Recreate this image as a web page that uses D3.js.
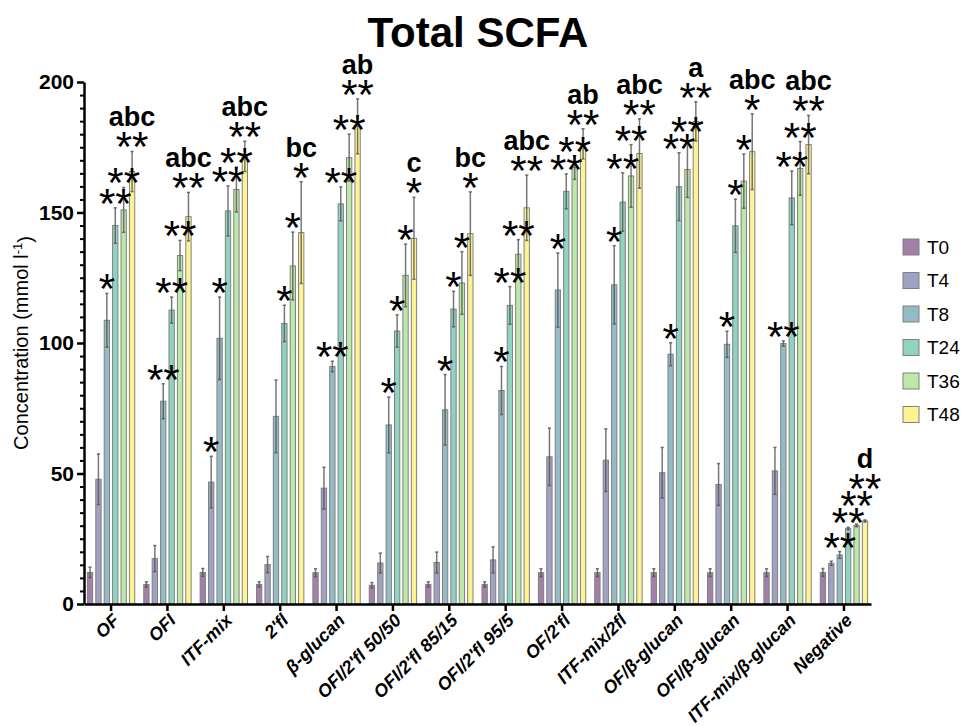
<!DOCTYPE html>
<html>
<head>
<meta charset="utf-8">
<script src="https://cdn.jsdelivr.net/npm/d3@7"></script>
<style>
  body { margin: 0; background: #fff; }
  svg { display: block; }
</style>
</head>
<body>
<svg id="chart" width="973" height="726"></svg>
<script>
// Treatments (x groups) and sampling times (series)
const categories = ["OF", "OFI", "ITF-mix", "2'fl", "β-glucan", "OFI/2'fl 50/50", "OFI/2'fl 85/15",
  "OFI/2'fl 95/5", "OF/2'fl", "ITF-mix/2fl", "OF/β-glucan", "OFI/β-glucan", "ITF-mix/β-glucan", "Negative"];
const seriesNames = ["T0", "T4", "T8", "T24", "T36", "T48"];

// Mean total SCFA (mmol l-1) per treatment
const meanT0  = [12.1, 7.5, 12.1, 7.5, 12.0, 7.2, 7.5, 7.5, 12.0, 12.0, 12.0, 12.0, 12.0, 12.1];
const meanT4  = [47.8, 17.4, 46.7, 15.1, 44.4, 15.7, 15.9, 16.9, 56.4, 55.1, 50.3, 45.8, 51.0, 15.6];
const meanT8  = [108.7, 77.7, 101.8, 71.9, 91.0, 68.6, 74.4, 81.8, 120.3, 122.3, 95.7, 99.5, 99.8, 18.8];
const meanT24 = [145.0, 112.6, 150.6, 107.5, 153.3, 104.6, 113.0, 114.4, 158.1, 154.0, 159.9, 144.9, 155.6, 28.9];
const meanT36 = [151.0, 133.5, 158.8, 129.5, 171.0, 125.9, 123.0, 134.0, 167.2, 164.0, 166.5, 162.0, 166.9, 30.1];
const meanT48 = [165.7, 148.4, 171.5, 142.3, 183.0, 140.1, 141.9, 151.8, 176.3, 172.6, 184.9, 173.3, 176.0, 31.8];

// Standard deviations
const sdT0  = [2.0, 1.0, 1.5, 1.0, 1.5, 1.0, 1.0, 1.0, 1.5, 1.5, 1.5, 1.5, 1.5, 1.5];
const sdT4  = [9.7, 5.0, 9.9, 3.1, 8.0, 3.8, 4.0, 5.0, 11.0, 12.0, 9.7, 8.0, 9.0, 0.8];
const sdT8  = [10.3, 6.7, 15.8, 13.9, 2.0, 10.7, 13.5, 9.2, 14.2, 15.0, 4.4, 5.0, 1.0, 1.3];
const sdT24 = [6.8, 5.0, 9.6, 7.0, 6.5, 6.2, 6.8, 7.2, 6.7, 11.2, 13.0, 10.2, 10.3, 0.5];
const sdT36 = [8.6, 5.8, 8.6, 13.0, 9.0, 12.0, 12.0, 5.6, 4.5, 12.0, 10.7, 10.4, 10.3, 0.5];
const sdT48 = [7.7, 9.3, 5.8, 19.5, 10.5, 15.7, 16.0, 12.5, 5.8, 13.3, 7.5, 14.5, 11.2, 0.4];

// Significance vs. T0
const starsT0  = ["", "", "", "", "", "", "", "", "", "", "", "", "", ""];
const starsT4  = ["", "", "*", "", "", "", "", "", "", "", "", "", "", ""];
const starsT8  = ["*", "**", "*", "", "**", "*", "*", "*", "*", "*", "*", "*", "**", "**"];
const starsT24 = ["**", "**", "**", "*", "**", "*", "*", "**", "**", "**", "**", "*", "**", "**"];
const starsT36 = ["**", "**", "**", "*", "**", "*", "*", "**", "**", "**", "**", "*", "**", "**"];
const starsT48 = ["**", "**", "**", "*", "**", "*", "*", "**", "**", "**", "**", "*", "**", "**"];

// Compact letter display between treatments at T48
const groupLetters = ["abc", "abc", "abc", "bc", "ab", "c", "bc", "abc", "ab", "abc", "a", "abc", "abc", "d"];

const yTicks = [0, 50, 100, 150, 200];
const yMax = 200;

const means = [meanT0, meanT4, meanT8, meanT24, meanT36, meanT48];
const sds = [sdT0, sdT4, sdT8, sdT24, sdT36, sdT48];
const stars = [starsT0, starsT4, starsT8, starsT24, starsT36, starsT48];

const rows = [];
categories.forEach((cat, i) => {
  seriesNames.forEach((s, j) => {
    rows.push({ cat, ci: i, series: s, si: j, mean: means[j][i], sd: sds[j][i], star: stars[j][i] });
  });
});

const FONT = '"Liberation Sans", Arial, Helvetica, sans-serif';
const svg = d3.select("#chart");

const plotLeft = 84, plotRight = 871, plotTop = 82, plotBottom = 604;

const x0 = d3.scaleBand().domain(categories).range([plotLeft, plotRight]).paddingInner(0.16).paddingOuter(0.06);
const x1 = d3.scaleBand().domain(seriesNames).range([0, x0.bandwidth()]).paddingInner(0.37).paddingOuter(0);
const y = d3.scaleLinear().domain([0, yMax]).range([plotBottom, plotTop]);

const baseColor = d3.scaleOrdinal().domain(seriesNames)
  .range(seriesNames.map((_, k) => d3.interpolateViridis(k / (seriesNames.length - 1))));

// Title
svg.append("text")
  .attr("x", 478).attr("y", 47)
  .attr("text-anchor", "middle")
  .style("font-family", FONT).style("font-weight", "bold").style("font-size", "42px")
  .text("Total SCFA");

// Bars
const gBars = svg.append("g");
gBars.selectAll("rect").data(rows).join("rect")
  .attr("x", d => x0(d.cat) + x1(d.series))
  .attr("width", x1.bandwidth())
  .attr("y", d => y(d.mean))
  .attr("height", d => y(0) - y(d.mean))
  .attr("fill", d => baseColor(d.series))
  .attr("fill-opacity", 0.5)
  .attr("stroke", "#808080")
  .attr("stroke-width", 1);

// Error bars
const cx = d => x0(d.cat) + x1(d.series) + x1.bandwidth() / 2;
const gErr = svg.append("g").attr("stroke", "#555").attr("stroke-opacity", 0.8).attr("stroke-width", 1.5);
gErr.selectAll("line.v").data(rows).join("line").attr("class", "v")
  .attr("x1", cx).attr("x2", cx)
  .attr("y1", d => y(d.mean - d.sd)).attr("y2", d => y(d.mean + d.sd));
gErr.selectAll("line.t").data(rows).join("line").attr("class", "t")
  .attr("x1", d => cx(d) - 1.6).attr("x2", d => cx(d) + 1.6)
  .attr("y1", d => y(d.mean + d.sd)).attr("y2", d => y(d.mean + d.sd));
gErr.selectAll("line.b").data(rows).join("line").attr("class", "b")
  .attr("x1", d => cx(d) - 1.6).attr("x2", d => cx(d) + 1.6)
  .attr("y1", d => y(d.mean - d.sd)).attr("y2", d => y(d.mean - d.sd));

// Axes
const yAxisMinor = d3.axisLeft(y)
  .tickValues(d3.range(0, yMax + 1, 5).filter(v => v % 50 !== 0))
  .tickSize(4).tickFormat("").tickSizeOuter(0);
svg.append("g").attr("transform", `translate(${plotLeft},0)`).call(yAxisMinor)
  .call(g => g.select(".domain").remove())
  .call(g => g.selectAll("line").attr("stroke", "#000").attr("stroke-width", 2));

const yAxis = d3.axisLeft(y).tickValues(yTicks).tickSize(7).tickPadding(3).tickSizeOuter(0);
svg.append("g").attr("transform", `translate(${plotLeft},0)`).call(yAxis)
  .call(g => g.select(".domain").attr("stroke", "#000").attr("stroke-width", 2.5))
  .call(g => g.selectAll("line").attr("stroke", "#000").attr("stroke-width", 2.5))
  .call(g => g.selectAll("text")
    .style("font-family", FONT).style("font-weight", "bold").style("font-size", "21px").attr("fill", "#000"));

const xAxis = d3.axisBottom(x0).tickSize(7).tickSizeOuter(0);
svg.append("g").attr("transform", `translate(0,${plotBottom})`).call(xAxis)
  .call(g => g.select(".domain").attr("stroke", "#000").attr("stroke-width", 2.5))
  .call(g => g.selectAll("line").attr("stroke", "#000").attr("stroke-width", 2.5))
  .call(g => g.selectAll("text")
    .attr("x", null).attr("y", null).attr("dy", "0.35em")
    .attr("transform", "translate(5,13) rotate(-45)")
    .attr("text-anchor", "end")
    .style("font-family", FONT).style("font-weight", "bold").style("font-style", "italic")
    .style("font-size", "18px").attr("fill", "#000"));

// Y axis title
const yTitle = svg.append("text")
  .attr("transform", `translate(28,${(plotTop + plotBottom) / 2}) rotate(-90)`)
  .attr("text-anchor", "middle")
  .style("font-family", FONT).style("font-size", "20px").attr("fill", "#000");
yTitle.append("tspan").text("Concentration (mmol l");
yTitle.append("tspan").attr("dy", "-0.5em").style("font-size", "13px").text("-1");
yTitle.append("tspan").attr("dy", "0.5em").text(")");

// Significance marks and letters, stacked so they do not collide
const ctx = document.createElement("canvas").getContext("2d");
ctx.textAlign = "center";
function inkBox(text, font) {
  ctx.font = font;
  const m = ctx.measureText(text);
  return { asc: m.actualBoundingBoxAscent, desc: m.actualBoundingBoxDescent,
           l: m.actualBoundingBoxLeft, r: m.actualBoundingBoxRight };
}
const starSize = 42;
const starFont = `${starSize}px ${FONT}`;
const letterFont = `bold 27px ${FONT}`;
const gLabels = svg.append("g");

categories.forEach((cat, i) => {
  const placed = [];
  const groupRows = rows.filter(r => r.ci === i);
  groupRows.forEach(r => {
    if (!r.star) return;
    const m = inkBox(r.star, starFont);
    const xc = cx(r);
    let yb = y(r.mean + r.sd) - 3;
    const box = () => ({ x0: xc - m.l, x1: xc + m.r, bot: yb, top: yb - (m.asc + m.desc) });
    let b = box();
    let moved = true;
    while (moved) {
      moved = false;
      for (const p of placed) {
        const xo = Math.min(b.x1, p.x1) - Math.max(b.x0, p.x0);
        const yo = Math.min(b.bot, p.bot) - Math.max(b.top, p.top);
        if (xo > 2 && yo > 0) { yb = p.top - 1; b = box(); moved = true; }
      }
    }
    placed.push(b);
    gLabels.append("text")
      .attr("x", xc).attr("y", yb - m.desc)
      .attr("text-anchor", "middle")
      .style("font-family", FONT).style("font-size", `${starSize}px`).attr("fill", "#000")
      .text(r.star);
  });
  // letter over the last time point
  const last = groupRows[groupRows.length - 1];
  const lm = inkBox(groupLetters[i], letterFont);
  const lx = cx(last);
  const lx0 = lx - lm.l, lx1 = lx + lm.r;
  let lb = y(last.mean + last.sd) - 6;
  placed.forEach(p => {
    if (Math.min(lx1, p.x1) - Math.max(lx0, p.x0) > 4) lb = Math.min(lb, p.top - 6);
  });
  gLabels.append("text")
    .attr("x", lx).attr("y", lb - lm.desc)
    .attr("text-anchor", "middle")
    .style("font-family", FONT).style("font-weight", "bold").style("font-size", "27px").attr("fill", "#000")
    .text(groupLetters[i]);
});

// Legend
const legend = svg.append("g").attr("transform", "translate(903,247)");
const li = legend.selectAll("g").data(seriesNames).join("g")
  .attr("transform", (d, k) => `translate(0,${k * 33.5})`);
li.append("rect").attr("x", 0).attr("y", -8).attr("width", 16).attr("height", 16)
  .attr("fill", d => baseColor(d)).attr("fill-opacity", 0.5)
  .attr("stroke", "#808080").attr("stroke-width", 1);
li.append("text").attr("x", 24).attr("y", 0).attr("dy", "0.35em")
  .style("font-family", FONT).style("font-size", "19px").attr("fill", "#000")
  .text(d => d);
</script>
</body>
</html>
